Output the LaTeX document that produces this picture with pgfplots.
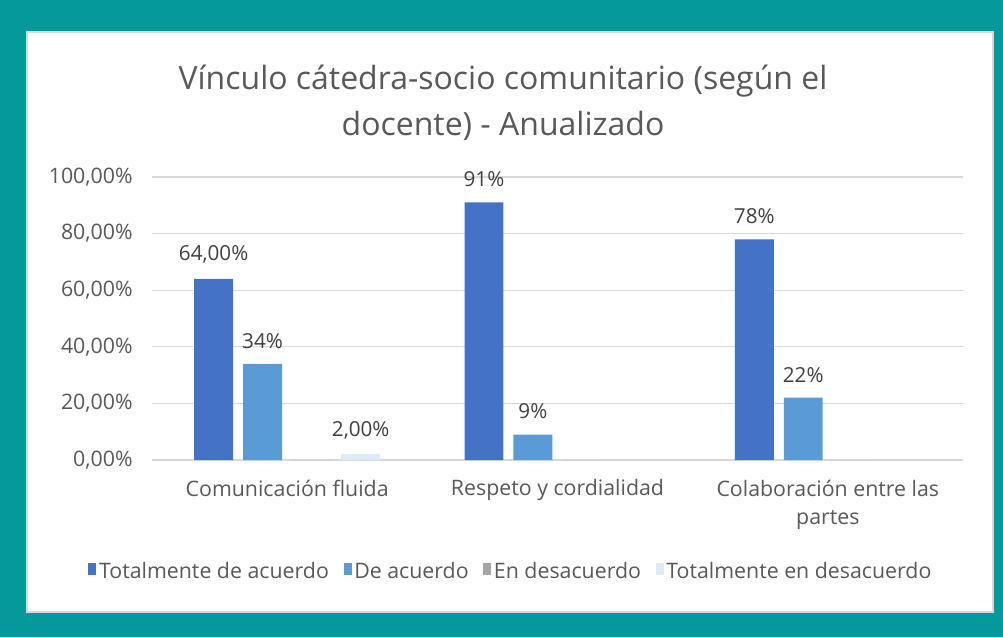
\documentclass[border=0pt]{standalone}
\usepackage{pgfplots}
\pgfplotsset{compat=1.18}
\usepackage{fontspec}
\setmainfont{Open Sans}
\definecolor{frame}{HTML}{05999B}
\definecolor{c1}{HTML}{4472C4}
\definecolor{c2}{HTML}{5B9BD5}
\definecolor{c3}{HTML}{A5A5A5}
\definecolor{c4}{HTML}{DDEBF7}
\definecolor{txt}{HTML}{595959}
\definecolor{lbl}{HTML}{404040}
\definecolor{gridc}{HTML}{D9D9D9}
\begin{document}
\begin{tikzpicture}
\fill[frame] (0pt,0pt) rectangle (752.25pt,477.75pt);
\filldraw[fill=white,draw=gridc,line width=1pt] (20.25pt,18.75pt) rectangle (744.75pt,453.75pt);
\node[txt,font=\fontsize{24}{34.5}\selectfont,align=center] at (377.25pt,401pt) {Vínculo cátedra-socio comunitario (según el\\docente) - Anualizado};
\begin{axis}[at={(114pt,132.75pt)}, anchor=south west, scale only axis,
  width=608.25pt, height=212.25pt,
  xmin=-0.5, xmax=2.5, ymin=0, ymax=100,
  ybar, clip=false,
  axis x line*=bottom, axis y line*=left,
  x axis line style={draw=gridc, line width=1pt, -},
  y axis line style={draw=none},
  major tick style={draw=none},
  ymajorgrids, grid style={draw=gridc, line width=1pt},
  ytick={0,20,...,100},
  /pgf/number format/assume math mode=true,
  yticklabel={\pgfmathprintnumber[fixed,fixed zerofill,precision=2,use comma]{\tick}\%},
  tick label style={font=\fontsize{16}{21}\selectfont, text=txt},
  yticklabel style={xshift=-11pt},
  xtick={0,1,2},
  xticklabels={Comunicación fluida, Respeto y cordialidad, {Colaboración entre las\\partes}},
  xticklabel style={align=center, yshift=-7pt},
  legend style={at={(0.443,-0.392)}, anchor=center, draw=none, fill=none,
    legend columns=-1, font=\fontsize{16}{18}\selectfont, text=txt,
    /tikz/every even column/.append style={column sep=9pt}},
  legend image code/.code={\fill[#1] (0pt,-3pt) rectangle (6pt,6pt);},
  every node near coord/.append style={font=\fontsize{15.5}{18}\selectfont, text=lbl, yshift=8pt},
]
\addplot[bar width=0.144, bar shift=-0.272, fill=c1, draw=none, nodes near coords, point meta=explicit symbolic]
  coordinates {(0,64)[64,00\%] (1,91)[91\%] (2,78)[78\%]};
\addplot[bar width=0.144, bar shift=-0.091, fill=c2, draw=none, nodes near coords, point meta=explicit symbolic]
  coordinates {(0,34)[34\%] (1,9)[9\%] (2,22)[22\%]};
\addplot[bar width=0.144, bar shift=0.091, fill=c3, draw=none]
  coordinates {(0,0) (1,0) (2,0)};
\addplot[bar width=0.144, bar shift=0.272, fill=c4, draw=none, nodes near coords, point meta=explicit symbolic]
  coordinates {(0,2)[2,00\%]};
\legend{Totalmente de acuerdo, De acuerdo, En desacuerdo, Totalmente en desacuerdo}
\end{axis}
\end{tikzpicture}
\end{document}
